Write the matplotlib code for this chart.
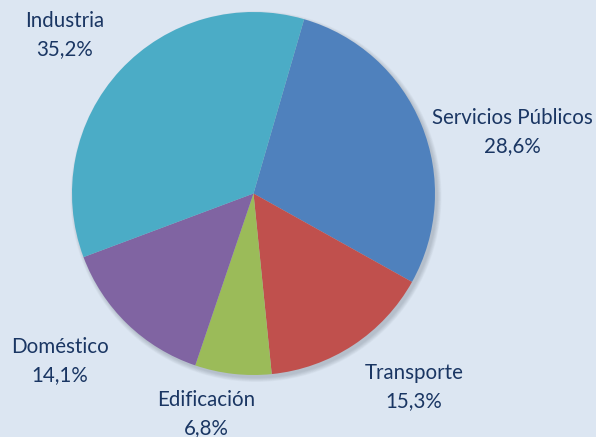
import matplotlib
matplotlib.use("Agg")
import matplotlib.pyplot as plt
from matplotlib.patches import Circle

# data
sectores = ["Servicios Públicos", "Transporte", "Edificación", "Doméstico", "Industria"]
porcentajes = [28.6, 15.3, 6.8, 14.1, 35.2]
colores = ["#4f81bd", "#c0504d", "#9bbb59", "#8064a2", "#4bacc6"]

# label centres (pixels, from top-left)
label_pos = {
    "Servicios Públicos": (512, 132),
    "Transporte": (414, 387),
    "Edificación": (206, 414),
    "Doméstico": (60, 361),
    "Industria": (65, 35),
}

W, H = 596, 437
fig = plt.figure(figsize=(W / 100, H / 100), dpi=100)
fig.patch.set_facecolor("#dce6f2")
ax = fig.add_axes([0, 0, 1, 1])

cx, cy, r = 253.5, H - 193.5, 181.5

# soft shadow under the pie
for i in range(8):
    ax.add_patch(Circle((cx + 2.5, cy - 3), r + 4 - i * 0.6, color="#5a6470",
                        alpha=0.04, lw=0, zorder=0))

ax.pie(porcentajes, colors=colores, startangle=73.8, counterclock=False,
       center=(cx, cy), radius=r, frame=True,
       wedgeprops=dict(linewidth=0, zorder=2))
ax.set_xlim(0, W)
ax.set_ylim(0, H)
ax.set_aspect("equal")
ax.axis("off")

for nombre, val in zip(sectores, porcentajes):
    x, y = label_pos[nombre]
    txt = nombre + "\n" + ("%.1f%%" % val).replace(".", ",")
    ax.text(x, H - y, txt, ha="center", va="center", fontsize=14.8,
            family=["Lato", "DejaVu Sans"], color="#1a3663", linespacing=1.5)

fig.savefig("out.png", dpi=100, facecolor=fig.get_facecolor())
